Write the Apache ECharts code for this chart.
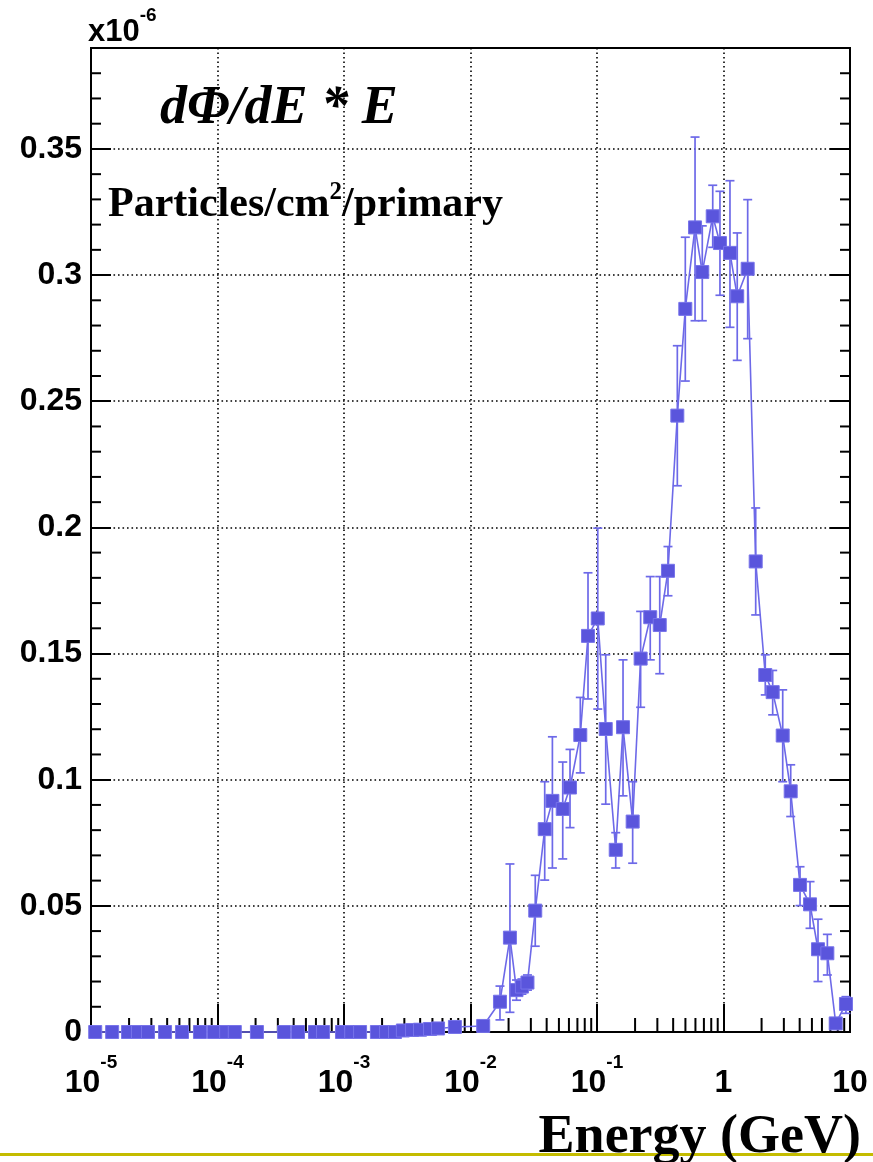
<!DOCTYPE html>
<html>
<head>
<meta charset="utf-8">
<script src="https://cdn.jsdelivr.net/npm/echarts@6/dist/echarts.min.js"></script>
<style>
  html, body { margin: 0; padding: 0; background: #ffffff; }
  #chart { width: 873px; height: 1162px; }
</style>
</head>
<body>
<div id="chart"></div>
<script>
// Bin centres of the spectrum, in GeV
const energy = [
  1.08e-5, 1.47e-5, 1.96e-5, 2.35e-5, 2.82e-5, 3.85e-5, 5.24e-5, 7.27e-5, 9.38e-5,
  1.17e-4, 1.37e-4, 2.05e-4, 3.36e-4, 4.33e-4, 5.90e-4, 6.83e-4, 9.64e-4,
  1.14e-3, 1.34e-3, 1.82e-3, 2.15e-3, 2.53e-3, 2.92e-3, 3.45e-3, 3.99e-3, 4.79e-3, 5.54e-3, 7.53e-3,
  1.26e-2, 1.71e-2, 2.05e-2, 2.31e-2, 2.55e-2, 2.82e-2, 3.25e-2, 3.86e-2, 4.44e-2, 5.36e-2, 6.12e-2, 7.38e-2, 8.49e-2,
  0.1014, 0.1172, 0.1406, 0.1606, 0.1914, 0.2213, 0.2636, 0.3133, 0.3640, 0.4315, 0.4989, 0.5957, 0.6796, 0.822, 0.9376,
  1.125, 1.284, 1.553, 1.797, 2.139, 2.448, 2.938, 3.398, 4.027, 4.831, 5.585, 6.622, 7.71, 9.29
];
// dPhi/dE * E, in units of 1e-6 particles/cm2/primary
const flux = [
  0, 0, 0, 0, 0, 0, 0, 0, 0,
  0, 0, 0, 0, 0, 0, 0, 0,
  0, 0, 0, 0, 0, 0.0006, 0.0008, 0.0009, 0.0012, 0.0014, 0.0020,
  0.0024, 0.0120, 0.0374, 0.0166, 0.0180, 0.0196, 0.0481, 0.0804, 0.0916, 0.0884, 0.0969, 0.1177, 0.1570,
  0.1639, 0.1201, 0.0722, 0.1208, 0.0834, 0.1480, 0.1644, 0.1613, 0.1828, 0.2443, 0.2866, 0.3189, 0.3012, 0.3233, 0.3127,
  0.3088, 0.2916, 0.3025, 0.1865, 0.1415, 0.1347, 0.1175, 0.0954, 0.0583, 0.0506, 0.0328, 0.0312, 0.0034, 0.0111
];
// Lower and upper ends of the error bars (same units)
const errLow = [
  0, 0, 0, 0, 0, 0, 0, 0, 0,
  0, 0, 0, 0, 0, 0, 0, 0,
  0, 0, 0, 0, 0, 0.0006, 0.0008, 0.0009, 0.0012, 0.0014, 0.0020,
  0.0024, 0.0048, 0.0078, 0.0126, 0.0150, 0.0166, 0.0340, 0.0602, 0.0650, 0.0686, 0.0810, 0.1027, 0.1320,
  0.1280, 0.0903, 0.0650, 0.0936, 0.0669, 0.1287, 0.1475, 0.1420, 0.1729, 0.2165, 0.2580, 0.2819, 0.2819, 0.3110, 0.2920,
  0.2793, 0.2662, 0.2748, 0.1653, 0.1336, 0.1257, 0.0992, 0.0854, 0.0501, 0.0411, 0.0200, 0.0226, 0.0020, 0.0074
];
const errHigh = [
  0, 0, 0, 0, 0, 0, 0, 0, 0,
  0, 0, 0, 0, 0, 0, 0, 0,
  0, 0, 0, 0, 0, 0.0006, 0.0008, 0.0009, 0.0012, 0.0014, 0.0020,
  0.0024, 0.0182, 0.0666, 0.0206, 0.0210, 0.0226, 0.0621, 0.0992, 0.1170, 0.1070, 0.1120, 0.1326, 0.1820,
  0.1997, 0.1495, 0.0790, 0.1475, 0.0992, 0.1667, 0.1805, 0.1805, 0.1924, 0.2720, 0.3150, 0.3547, 0.3195, 0.3356, 0.3332,
  0.3374, 0.3167, 0.3299, 0.2077, 0.1495, 0.1433, 0.1356, 0.1059, 0.0655, 0.0596, 0.0447, 0.0387, 0.0050, 0.0140
];

// Axis labels
const xTickBase = ['10', '10', '10', '10', '10', '1', '10'];
const xTickSup  = ['-5', '-4', '-3', '-2', '-1', '', ''];
const yTickLabels = ['0', '0.05', '0.1', '0.15', '0.2', '0.25', '0.3', '0.35'];

const X_MIN = 1e-5, X_MAX = 10, Y_MAX = 0.39, Y_STEP = 0.05;
const markColor = '#5a55dc';
const barColor = '#6d69e8';

// Minor tick positions: 2..9 within each decade, and every 0.01 on y
const xMinor = [];
for (let k = -5; k < 1; k++) {
  for (let m = 2; m <= 9; m++) xMinor.push([m * Math.pow(10, k), 0]);
}
const yMinor = [];
for (let i = 1; i * 0.01 < Y_MAX; i++) {
  if (i % 5 !== 0) yMinor.push([X_MIN, +(i * 0.01).toFixed(2)]);
}

const points = energy.map((e, i) => [e, flux[i]]);
const bars = [];
energy.forEach((e, i) => {
  if (errHigh[i] > errLow[i]) bars.push([e, errLow[i], errHigh[i]]);
});

const chart = echarts.init(document.getElementById('chart'), null, { renderer: 'canvas' });

const axisFont = { fontFamily: 'Liberation Sans, Arial, sans-serif', fontWeight: 'bold', color: '#000' };
const gridDots = { color: '#000', width: 1.6, type: [1.6, 2.9] };

chart.setOption({
  animation: false,
  backgroundColor: '#ffffff',
  grid: { left: 91, right: 23, top: 48, bottom: 130, show: true, borderColor: '#000', borderWidth: 2, containLabel: false },
  xAxis: {
    type: 'log', logBase: 10, min: X_MIN, max: X_MAX,
    axisLine: { show: true, lineStyle: { color: '#000', width: 2 } },
    axisTick: { show: true, inside: true, length: 28, lineStyle: { color: '#000', width: 2 } },
    splitLine: { show: true, lineStyle: gridDots },
    axisLabel: {
      margin: 21,
      formatter: function (v) {
        const k = Math.round(Math.log10(v)) + 5;
        const base = xTickBase[k], sup = xTickSup[k];
        return sup ? '{b|' + base + '}{s|' + sup + '}' : '{b|' + base + '}';
      },
      rich: {
        b: Object.assign({ fontSize: 32, lineHeight: 46, verticalAlign: 'bottom' }, axisFont),
        s: Object.assign({ fontSize: 19, lineHeight: 46, verticalAlign: 'top' }, axisFont)
      }
    }
  },
  yAxis: [{
    type: 'value', min: 0, max: Y_MAX, interval: Y_STEP, position: 'left',
    axisLine: { show: true, lineStyle: { color: '#000', width: 2 } },
    axisTick: { show: true, inside: true, length: 20, lineStyle: { color: '#000', width: 2 } },
    splitLine: { show: true, lineStyle: gridDots },
    axisLabel: Object.assign({
      fontSize: 32, margin: 9,
      formatter: function (v) {
        const idx = Math.round(v / Y_STEP);
        return Math.abs(v - idx * Y_STEP) < 1e-6 && idx < yTickLabels.length ? yTickLabels[idx] : '';
      }
    }, axisFont)
  }, {
    type: 'value', min: 0, max: Y_MAX, interval: Y_STEP, position: 'right',
    axisLine: { show: true, lineStyle: { color: '#000', width: 2 } },
    axisTick: { show: true, inside: true, length: 20, lineStyle: { color: '#000', width: 2 } },
    splitLine: { show: false },
    axisLabel: { show: false }
  }],
  series: [
    {
      name: 'xMinorTicks', type: 'custom', data: xMinor, silent: true, z: 1,
      renderItem: function (params, api) {
        const p = api.coord([api.value(0), 0]);
        return { type: 'line', shape: { x1: p[0], y1: p[1], x2: p[0], y2: p[1] - 14 },
                 style: { stroke: '#000', lineWidth: 2 } };
      }
    },
    {
      name: 'yMinorTicks', type: 'custom', data: yMinor, silent: true, z: 1,
      renderItem: function (params, api) {
        const l = api.coord([X_MIN, api.value(1)]);
        const r = api.coord([X_MAX, api.value(1)]);
        return { type: 'group', children: [
          { type: 'line', shape: { x1: l[0], y1: l[1], x2: l[0] + 10, y2: l[1] }, style: { stroke: '#000', lineWidth: 2 } },
          { type: 'line', shape: { x1: r[0], y1: r[1], x2: r[0] - 10, y2: r[1] }, style: { stroke: '#000', lineWidth: 2 } }
        ] };
      }
    },
    {
      name: 'errors', type: 'custom', data: bars, silent: true, z: 3,
      encode: { x: 0, y: [1, 2] },
      renderItem: function (params, api) {
        const lo = api.coord([api.value(0), api.value(1)]);
        const hi = api.coord([api.value(0), api.value(2)]);
        const hw = 4.5;
        const st = { stroke: barColor, lineWidth: 1.7 };
        return { type: 'group', children: [
          { type: 'line', shape: { x1: lo[0], y1: lo[1], x2: hi[0], y2: hi[1] }, style: st },
          { type: 'line', shape: { x1: lo[0] - hw, y1: lo[1], x2: lo[0] + hw, y2: lo[1] }, style: st },
          { type: 'line', shape: { x1: hi[0] - hw, y1: hi[1], x2: hi[0] + hw, y2: hi[1] }, style: st }
        ] };
      }
    },
    {
      name: 'flux', type: 'line', data: points, z: 4, clip: false,
      symbol: 'rect', symbolSize: 13, showAllSymbol: true,
      lineStyle: { color: barColor, width: 1.6 },
      itemStyle: { color: markColor, borderColor: '#7773ea', borderWidth: 1 }
    }
  ],
  graphic: [
    { type: 'rect', left: 0, top: 1153, shape: { width: 873, height: 3 }, style: { fill: '#c4bc00' }, z: 10 },
    {
      type: 'text', left: 88, top: 6, z: 11,
      style: {
        text: '{a|x10}{b|-6}',
        rich: {
          a: { fontSize: 31, fontWeight: 'bold', fontFamily: 'Liberation Sans, Arial, sans-serif', fill: '#000', lineHeight: 42, verticalAlign: 'bottom' },
          b: { fontSize: 19, fontWeight: 'bold', fontFamily: 'Liberation Sans, Arial, sans-serif', fill: '#000', lineHeight: 42, verticalAlign: 'top' }
        }
      }
    },
    {
      type: 'text', left: 160, top: 82, z: 11,
      style: { text: 'd\u03A6/dE * E', font: 'italic bold 54px "Liberation Serif", "Times New Roman", serif', fill: '#000' }
    },
    {
      type: 'text', left: 108, top: 180, z: 11,
      style: {
        text: '{t|Particles/cm}{s|2}{t|/primary}',
        rich: {
          t: { fontSize: 42, fontWeight: 'bold', fontFamily: 'Liberation Serif, Times New Roman, serif', fill: '#000', lineHeight: 46, verticalAlign: 'bottom' },
          s: { fontSize: 25, fontWeight: 'bold', fontFamily: 'Liberation Serif, Times New Roman, serif', fill: '#000', lineHeight: 46, verticalAlign: 'top' }
        }
      }
    },
    {
      type: 'text', right: 12, top: 1111, z: 11,
      style: { text: 'Energy (GeV)', font: 'bold 54px "Liberation Serif", "Times New Roman", serif', fill: '#000' }
    }
  ]
});
</script>
</body>
</html>
